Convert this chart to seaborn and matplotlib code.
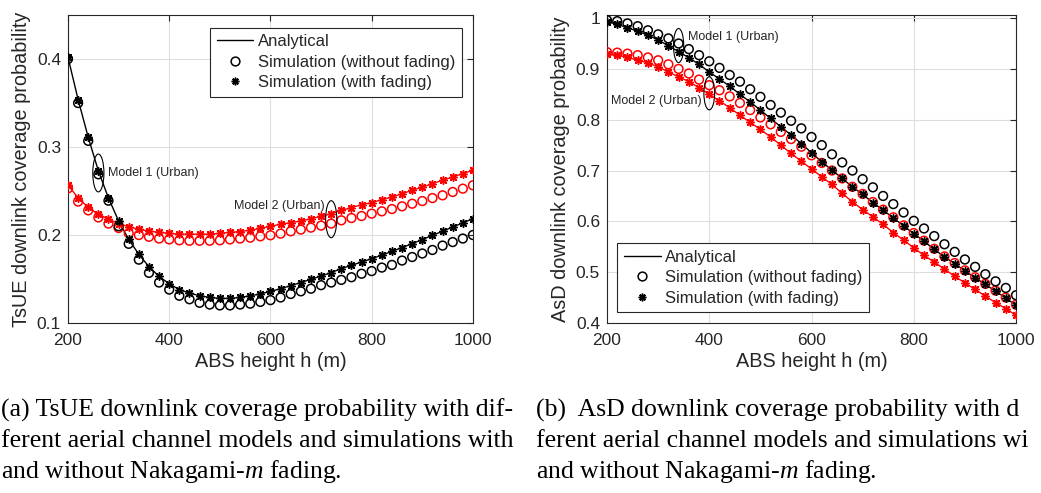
import numpy as np
import pandas as pd
import matplotlib
matplotlib.use("Agg")
import matplotlib.pyplot as plt
import seaborn as sns
from matplotlib.patches import Ellipse
from matplotlib.lines import Line2D

# ---------------- data ----------------
heights = [200, 220, 240, 260, 280, 300, 320, 340, 360, 380, 400, 420, 440, 460, 480,
           500, 520, 540, 560, 580, 600, 620, 640, 660, 680, 700, 720, 740, 760, 780,
           800, 820, 840, 860, 880, 900, 920, 940, 960, 980, 1000]

# (a) TsUE
tsue_m1_nofade = [0.400, 0.350, 0.307, 0.269, 0.239, 0.210, 0.190, 0.172, 0.157, 0.146,
                  0.138, 0.131, 0.127, 0.123, 0.121, 0.120, 0.120, 0.121, 0.122, 0.124,
                  0.126, 0.129, 0.133, 0.136, 0.139, 0.143, 0.146, 0.149, 0.152, 0.156,
                  0.159, 0.163, 0.166, 0.171, 0.175, 0.179, 0.183, 0.188, 0.192, 0.196, 0.200]
tsue_m1_fade = [0.402, 0.354, 0.311, 0.273, 0.242, 0.216, 0.195, 0.178, 0.164, 0.153,
                0.1445, 0.138, 0.134, 0.131, 0.129, 0.128, 0.128, 0.129, 0.131, 0.133,
                0.136, 0.139, 0.1425, 0.146, 0.1497, 0.1534, 0.1573, 0.1618, 0.1656, 0.1693,
                0.1732, 0.177, 0.1815, 0.1857, 0.1902, 0.1948, 0.1997, 0.2042, 0.2091, 0.2137, 0.2186]
tsue_m2_nofade = [0.253, 0.238, 0.228, 0.220, 0.213, 0.208, 0.202, 0.200, 0.198, 0.196,
                  0.195, 0.194, 0.1935, 0.1935, 0.1935, 0.194, 0.195, 0.196, 0.197, 0.1985,
                  0.1997, 0.2016, 0.2042, 0.2062, 0.2084, 0.2107, 0.213, 0.2167, 0.2193, 0.2216,
                  0.2243, 0.2269, 0.2295, 0.2326, 0.2356, 0.2386, 0.242, 0.2451, 0.2489, 0.2527, 0.2565]
tsue_m2_fade = [0.257, 0.242, 0.2315, 0.2235, 0.218, 0.213, 0.2095, 0.2065, 0.2045, 0.203,
                0.202, 0.201, 0.201, 0.201, 0.201, 0.202, 0.203, 0.204, 0.2055, 0.2076,
                0.21, 0.2122, 0.2141, 0.2159, 0.2186, 0.2212, 0.2243, 0.228, 0.2311, 0.2345,
                0.2368, 0.2402, 0.2432, 0.247, 0.2508, 0.2545, 0.2584, 0.2622, 0.2659, 0.2698, 0.2735]

# (b) AsD
asd_m1_nofade = [0.996, 0.994, 0.9895, 0.984, 0.976, 0.968, 0.960, 0.950, 0.939, 0.927,
                 0.915, 0.902, 0.888, 0.875, 0.860, 0.845, 0.829, 0.814, 0.798, 0.783,
                 0.766, 0.750, 0.732, 0.716, 0.700, 0.683, 0.667, 0.650, 0.634, 0.6175,
                 0.601, 0.586, 0.571, 0.555, 0.540, 0.525, 0.5105, 0.496, 0.482, 0.469, 0.4547]
asd_m1_fade = [0.993, 0.988, 0.981, 0.974, 0.9665, 0.957, 0.9455, 0.934, 0.922, 0.909,
               0.894, 0.880, 0.866, 0.850, 0.835, 0.819, 0.8025, 0.786, 0.770, 0.753,
               0.735, 0.717, 0.701, 0.6845, 0.668, 0.653, 0.637, 0.622, 0.607, 0.591,
               0.576, 0.561, 0.545, 0.530, 0.517, 0.5026, 0.489, 0.476, 0.4626, 0.449, 0.435]
asd_m2_nofade = [0.933, 0.932, 0.930, 0.927, 0.9225, 0.917, 0.909, 0.900, 0.891, 0.879,
                 0.868, 0.858, 0.846, 0.833, 0.819, 0.8045, 0.791, 0.776, 0.762, 0.747,
                 0.730, 0.715, 0.700, 0.6845, 0.668, 0.654, 0.638, 0.623, 0.608, 0.592,
                 0.577, 0.562, 0.546, 0.531, 0.518, 0.5035, 0.490, 0.477, 0.4636, 0.450, 0.436]
asd_m2_fade = [0.9285, 0.927, 0.9226, 0.917, 0.912, 0.904, 0.894, 0.8845, 0.875, 0.863,
               0.850, 0.837, 0.8235, 0.809, 0.7947, 0.781, 0.766, 0.750, 0.7336, 0.7185,
               0.703, 0.6876, 0.6726, 0.655, 0.6384, 0.623, 0.609, 0.594, 0.578, 0.563,
               0.548, 0.533, 0.520, 0.506, 0.492, 0.479, 0.466, 0.453, 0.440, 0.4285, 0.415]

x_ticks = [200, 400, 600, 800, 1000]
tsue_yticks = [0.1, 0.2, 0.3, 0.4]
tsue_ylabels = ["0.1", "0.2", "0.3", "0.4"]
asd_yticks = [0.4, 0.5, 0.6, 0.7, 0.8, 0.9, 1.0]
asd_ylabels = ["0.4", "0.5", "0.6", "0.7", "0.8", "0.9", "1"]

legend_labels = ["Analytical", "Simulation (without fading)", "Simulation (with fading)"]
model_labels = ["Model 1 (Urban)", "Model 2 (Urban)"]

# captions (panel b is cropped at the right edge in the reference)
cap_a = ["(a) TsUE downlink coverage probability with dif-",
         "ferent aerial channel models and simulations with",
         "and without Nakagami-$m$ fading."]
cap_b = ["(b)  AsD downlink coverage probability with d",
         "ferent aerial channel models and simulations wi",
         "and without Nakagami-$m$ fading."]

# ---------------- style ----------------
sns.set_theme(style="white")
plt.rcParams["font.family"] = ["Liberation Sans", "DejaVu Sans"]
plt.rcParams["mathtext.fontset"] = "custom"
plt.rcParams["mathtext.it"] = "Liberation Serif:italic"
plt.rcParams["mathtext.rm"] = "Liberation Serif"

DARK = "#262626"
GRID = "#dedede"
AST = (8, 2, 0)

fig = plt.figure(figsize=(10.41, 4.93), dpi=100)
axL = fig.add_axes([0.0653, 0.3448, 0.389, 0.6247])
axR = fig.add_axes([0.5831, 0.3448, 0.3929, 0.6247])


def draw(ax, m1c, m1s, m2c, m2s):
    for cvals, svals, col in [(m2c, m2s, "red"), (m1c, m1s, "black")]:
        df = pd.DataFrame({"h": heights, "nofade": cvals, "fade": svals})
        sns.lineplot(data=df, x="h", y="fade", color=col, lw=1.0, ax=ax, zorder=3)
        sns.scatterplot(data=df, x="h", y="nofade", color=col, marker="o", s=40, ax=ax, zorder=4)
        coll = ax.collections[-1]
        coll.set_facecolor("none")
        coll.set_edgecolor(col)
        coll.set_linewidth(1.1)
        sns.scatterplot(data=df, x="h", y="fade", color=col, marker=AST, s=30, ax=ax, zorder=5)
        coll = ax.collections[-1]
        coll.set_edgecolor(col)
        coll.set_facecolor(col)
        coll.set_linewidth(1.1)


def style(ax, yticks, ylabels, ylim, ylabel):
    ax.set_xlim(200, 1000)
    ax.set_ylim(*ylim)
    ax.set_xticks(x_ticks)
    ax.set_xticklabels([str(v) for v in x_ticks])
    ax.set_yticks(yticks)
    ax.set_yticklabels(ylabels)
    ax.grid(True, color=GRID, lw=0.8)
    ax.set_axisbelow(True)
    ax.tick_params(direction="in", top=True, right=True, length=4, width=0.8,
                   labelsize=12.5, colors=DARK, pad=5)
    ax.tick_params(axis="x", pad=7)
    for sp in ax.spines.values():
        sp.set_color(DARK)
        sp.set_linewidth(0.8)
    ax.set_xlabel("ABS height h (m)", fontsize=14.3, color=DARK, labelpad=3)
    ax.set_ylabel(ylabel, fontsize=14.3, color=DARK, labelpad=4)


draw(axL, tsue_m1_nofade, tsue_m1_fade, tsue_m2_nofade, tsue_m2_fade)
draw(axR, asd_m1_nofade, asd_m1_fade, asd_m2_nofade, asd_m2_fade)
style(axL, tsue_yticks, tsue_ylabels, (0.1, 0.45), "TsUE downlink coverage probability")
style(axR, asd_yticks, asd_ylabels, (0.4, 1.006), "AsD downlink coverage probability")

handles = [
    Line2D([], [], color="black", lw=1.0),
    Line2D([], [], color="black", marker="o", ls="", mfc="none", ms=6.3, mew=1.1),
    Line2D([], [], color="black", marker=AST, ls="", ms=5.5, mew=1.1),
]
for ax, loc, anchor in [(axL, "upper right", (0.972, 0.959)), (axR, "lower left", (0.025, 0.035))]:
    leg = ax.legend(handles, legend_labels, loc=loc, bbox_to_anchor=anchor, fontsize=12,
                    frameon=True, fancybox=False, framealpha=1, edgecolor=DARK,
                    handlelength=2.2, handletextpad=0.25, borderpad=0.4, labelspacing=0.33,
                    borderaxespad=0)
    leg.get_frame().set_linewidth(0.8)

# annotations
def annotate(ax, cx, cy, w, hgt, label, tx, ty, ha):
    ax.add_patch(Ellipse((cx, cy), w, hgt, fill=False, ec="black", lw=0.8, zorder=6))
    ax.text(tx, ty, label, fontsize=9, ha=ha, va="center", color=DARK, zorder=6)

annotate(axL, 260, 0.2705, 22, 0.043, model_labels[0], 279, 0.2705, "left")
annotate(axL, 720, 0.218, 22, 0.042, model_labels[1], 707, 0.233, "right")
annotate(axR, 340, 0.946, 20, 0.067, model_labels[0], 359, 0.963, "left")
annotate(axR, 400, 0.852, 21, 0.065, model_labels[1], 385, 0.837, "right")

ys = [0.1684, 0.1055, 0.0446]
for xpos, cap in [(0.001, cap_a), (0.515, cap_b)]:
    for y, line in zip(ys, cap):
        fig.text(xpos, y, line, fontsize=18.5, family=["Liberation Serif", "DejaVu Serif"],
                 color="black", ha="left", va="center")

fig.savefig("out.png", dpi=100)
